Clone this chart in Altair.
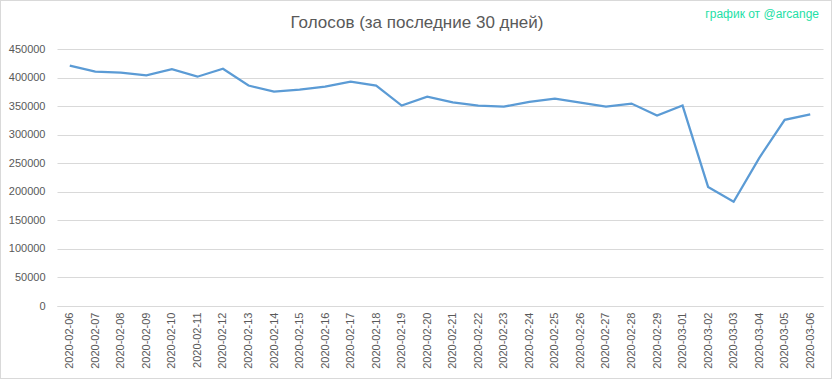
import altair as alt
import pandas as pd

dates = ["2020-02-06", "2020-02-07", "2020-02-08", "2020-02-09", "2020-02-10",
         "2020-02-11", "2020-02-12", "2020-02-13", "2020-02-14", "2020-02-15",
         "2020-02-16", "2020-02-17", "2020-02-18", "2020-02-19", "2020-02-20",
         "2020-02-21", "2020-02-22", "2020-02-23", "2020-02-24", "2020-02-25",
         "2020-02-26", "2020-02-27", "2020-02-28", "2020-02-29", "2020-03-01",
         "2020-03-02", "2020-03-03", "2020-03-04", "2020-03-05", "2020-03-06"]
votes = [421000, 410500, 408500, 404000, 414500,
         401500, 415500, 386000, 375500, 379000,
         384000, 393000, 386000, 351000, 366500,
         356500, 351000, 349000, 357500, 363000,
         356000, 349000, 354500, 333500, 351000,
         208500, 182500, 259000, 326000, 335500]
y_ticks = [0, 50000, 100000, 150000, 200000, 250000, 300000, 350000, 400000, 450000]

title_text = "Голосов (за последние 30 дней)"
credit_text = "график от @arcange"

df = pd.DataFrame({"date": dates, "votes": votes})

FONT = "Liberation Sans"
GRAY = "#595959"
GRID = "#d9d9d9"

W, H = 766, 257
PL, PT = 57, 49

line = alt.Chart(df).mark_line(color="#5b9bd5", strokeWidth=2.25).encode(
    x=alt.X("date:O", sort=dates,
            scale=alt.Scale(type="point", padding=0.5),
            axis=alt.Axis(title=None, labelAngle=-90, labelFont=FONT, labelFontSize=11,
                          labelColor=GRAY, ticks=False, domain=True, domainColor=GRID,
                          labelPadding=6, grid=False, labelBaseline="middle")),
    y=alt.Y("votes:Q", scale=alt.Scale(domain=[0, 450000], nice=False),
            axis=alt.Axis(title=None, values=y_ticks, format="d", labelFont=FONT,
                          labelFontSize=11, labelColor=GRAY, ticks=False, domain=False,
                          gridColor=GRID, gridWidth=1, labelPadding=12)),
)

border = alt.Chart(df).mark_rect(fill=None, stroke=GRID, strokeWidth=1).encode(
    x=alt.value(-PL + 0.5), x2=alt.value(832 - PL - 0.5),
    y=alt.value(-PT + 0.5), y2=alt.value(379 - PT - 0.5),
)

title = alt.Chart(pd.DataFrame({"t": [title_text]})).mark_text(
    font=FONT, fontSize=17, color=GRAY, align="center", baseline="middle"
).encode(text="t:N", x=alt.value(417 - PL), y=alt.value(23 - PT))

credit = alt.Chart(pd.DataFrame({"t": [credit_text]})).mark_text(
    font=FONT, fontSize=12, color="#1ee0a6", align="right", baseline="middle"
).encode(text="t:N", x=alt.value(819 - PL), y=alt.value(14 - PT))

chart = alt.layer(border, line, title, credit).properties(
    width=W, height=H,
    autosize=alt.AutoSizeParams(type="none"),
    padding={"left": PL, "top": PT, "right": 832 - PL - W, "bottom": 379 - PT - H},
    background="white",
).configure_view(stroke=None)

chart.save("out.html", embed_options={"renderer": "svg", "actions": False})
